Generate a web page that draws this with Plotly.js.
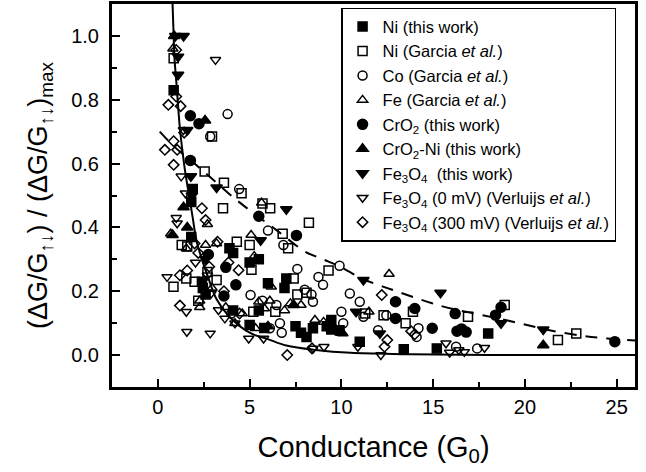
<!DOCTYPE html>
<html>
<head>
<meta charset="utf-8">
<script src="https://cdn.plot.ly/plotly-3.0.1.min.js"></script>
<style>html,body{margin:0;padding:0;background:#fff;}#chart{width:646px;height:472px;}</style>
</head>
<body>
<div id="chart"></div>
<script>
// ---- data ----
const niThisX = [0.86,1.82,1.9,1.82,2.45,2.4,2.6,3.9,4.1,4.1,5.0,5.5,5.0,5.5,5.8,6.0,7.0,6.9,7.5,7.8,8.1,8.45,9.2,9.45,9.45,9.9,11.0,13.4,15.2,18.0];
const niThisY = [0.83,0.48,0.52,0.37,0.21,0.23,0.19,0.335,0.32,0.14,0.29,0.30,0.094,0.14,0.085,0.225,0.24,0.21,0.09,0.07,0.057,0.084,0.09,0.11,0.08,0.078,0.042,0.018,0.021,0.068];

const niGarX = [0.86,2.95,2.55,3.6,3.55,4.56,5.7,6.12,8.23,6.8,7.1,4.3,5.0,5.1,1.3,1.6,0.85,1.55,2.0,2.7,3.2,2.2,5.2,7.4,7.6,8.1,9.3,6.4,12.3,13.5,13.9,16.9,18.9,21.8,22.8,11.3];
const niGarY = [0.93,0.685,0.575,0.54,0.46,0.507,0.475,0.46,0.415,0.38,0.335,0.355,0.345,0.267,0.345,0.34,0.214,0.24,0.23,0.26,0.235,0.17,0.136,0.24,0.19,0.195,0.265,0.136,0.125,0.10,0.136,0.12,0.157,0.047,0.068,0.13];

const coGarX = [3.8,2.85,4.43,6.0,6.84,7.6,9.9,8.75,9.0,8.0,8.37,8.45,5.05,6.46,6.65,6.75,6.1,10.46,11.0,11.2,10.0,10.1,12.0,14.2,14.1,16.25,17.4,12.45,5.7,4.0];
const coGarY = [0.755,0.685,0.52,0.39,0.345,0.27,0.28,0.245,0.22,0.205,0.19,0.167,0.188,0.157,0.10,0.07,0.084,0.193,0.167,0.12,0.136,0.10,0.078,0.084,0.057,0.026,0.021,0.125,0.17,0.13];

const feGarX = [0.82,5.65,5.08,5.25,2.7,2.6,1.55,0.7,3.2,2.28,2.28,2.95,3.7,4.2,6.18,5.32,5.5,6.1,5.8,7.22,7.8,8.56,9.03,10.08,11.5,12.6,4.6,6.9];
const feGarY = [0.96,0.477,0.376,0.31,0.41,0.345,0.334,0.38,0.35,0.17,0.15,0.21,0.15,0.10,0.214,0.084,0.167,0.17,0.146,0.162,0.157,0.11,0.104,0.068,0.136,0.254,0.13,0.14];

const cro2X = [1.77,2.24,1.77,5.5,7.55,4.25,3.7,3.6,2.75,12.95,12.95,14.0,14.95,16.2,16.3,16.55,16.8,18.4,18.7,24.9];
const cro2Y = [0.75,0.725,0.61,0.435,0.375,0.22,0.275,0.185,0.315,0.167,0.115,0.146,0.084,0.13,0.075,0.082,0.072,0.125,0.15,0.042];

const cro2NiX = [0.89,2.57,1.4,1.6,0.8,7.4,10.0,21.0,6.0];
const cro2NiY = [1.0,0.735,0.463,0.40,0.376,0.157,0.07,0.031,0.09];

const fe3o4ThisX = [0.95,1.4,1.1,1.1,1.6,1.8,1.85,3.2,5.6,7.0,11.2,15.4,18.7,21.0,10.8,12.1,2.6];
const fe3o4ThisY = [1.0,1.0,0.935,0.878,0.705,0.56,0.5,0.525,0.36,0.457,0.235,0.195,0.10,0.08,0.136,0.068,0.3];

const fe3o4ZeroX = [3.14,1.0,1.05,1.5,1.27,1.39,0.5,1.55,1.58,2.85,2.05,2.9,3.3,3.65,4.2,4.95,5.76,8.46,9.05,10.9,12.15,15.7,15.9,16.4,16.7,17.8,2.7];
const fe3o4ZeroY = [0.925,0.43,0.413,0.507,0.56,0.705,0.245,0.136,0.073,0.068,0.29,0.193,0.141,0.115,0.10,0.052,0.052,0.021,0.026,0.026,0.0,0.037,0.008,0.016,0.01,0.023,0.25];

const fe3o4ThreeX = [1.0,0.57,1.0,1.24,0.86,0.38,1.05,0.86,1.43,2.4,2.6,2.0,2.2,2.8,1.2,1.6,1.2,3.6,3.85,4.4,3.25,4.45,7.05,8.4,12.2,13.8,14.0,12.5,12.35];
const fe3o4ThreeY = [0.956,0.784,0.81,0.78,0.67,0.643,0.643,0.596,0.697,0.46,0.423,0.35,0.32,0.277,0.25,0.265,0.155,0.2,0.29,0.266,0.355,0.13,0.0,0.021,0.188,0.075,0.065,0.047,0.026];

// fitted guide curves
const solidX = [0.80,0.86,0.91,1.0,1.09,1.2,1.36,1.5,1.7,1.9,2.1,2.4,2.7,3.2,3.9,5.0,6.0,7.0,8.6,10.5,13.7,18,26];
const solidY = [1.10,1.0,0.925,0.86,0.79,0.71,0.63,0.57,0.50,0.43,0.36,0.30,0.25,0.175,0.12,0.07,0.05,0.03,0.016,0.007,0.003,0.0,0.0];
const dashX = [0.1,0.95,2.0,3.0,4.2,5.2,6.5,8.0,9.0,10,11.1,12,13,14.9,16.1,17.7,19.7,21.4,23.2,24.5,26];
const dashY = [0.70,0.65,0.60,0.55,0.49,0.445,0.39,0.325,0.30,0.275,0.24,0.22,0.20,0.163,0.144,0.125,0.10,0.077,0.06,0.052,0.046];

const seriesNames = [
  'Ni (this work)',
  'Ni (Garcia <i>et al.</i>)',
  'Co (Garcia <i>et al.</i>)',
  'Fe (Garcia <i>et al.</i>)',
  'CrO<sub>2</sub> (this work)',
  'CrO<sub>2</sub>-Ni (this work)',
  'Fe<sub>3</sub>O<sub>4</sub>\u00a0 (this work)',
  'Fe<sub>3</sub>O<sub>4</sub> (0 mV) (Verluijs <i>et al.</i>)',
  'Fe<sub>3</sub>O<sub>4</sub> (300 mV) (Verluijs <i>et al.</i>)'
];

// ---- chart ----
const FONT = 'Liberation Sans, Arial, Helvetica, sans-serif';
function sc(x, y, name, symbol, size){
  return {x:x, y:y, name:name, type:'scatter', mode:'markers',
    marker:{symbol:symbol, size:size, color:'black', line:{color:'black', width:1.5}},
    cliponaxis:true};
}
const traces = [
  {x:solidX, y:solidY, type:'scatter', mode:'lines', line:{color:'black', width:2, shape:'spline'}, showlegend:false, hoverinfo:'skip'},
  {x:dashX, y:dashY, type:'scatter', mode:'lines', line:{color:'black', width:2, dash:'12px,9px', shape:'spline'}, showlegend:false, hoverinfo:'skip'},
  sc(niThisX, niThisY, seriesNames[0], 'square', 9),
  sc(niGarX, niGarY, seriesNames[1], 'square-open', 9),
  sc(coGarX, coGarY, seriesNames[2], 'circle-open', 9),
  sc(feGarX, feGarY, seriesNames[3], 'triangle-up-open', 9),
  sc(cro2X, cro2Y, seriesNames[4], 'circle', 10),
  sc(cro2NiX, cro2NiY, seriesNames[5], 'triangle-up', 10),
  sc(fe3o4ThisX, fe3o4ThisY, seriesNames[6], 'triangle-down', 10),
  sc(fe3o4ZeroX, fe3o4ZeroY, seriesNames[7], 'triangle-down-open', 9),
  sc(fe3o4ThreeX, fe3o4ThreeY, seriesNames[8], 'diamond-open', 8)
];

const layout = {
  width:646, height:472,
  margin:{l:112, r:11, t:4, b:85},
  paper_bgcolor:'white', plot_bgcolor:'white',
  font:{family:FONT, color:'black'},
  showlegend:true,
  legend:{x:0.438, y:0.99, xanchor:'left', yanchor:'top',
    bordercolor:'black', borderwidth:1.5, bgcolor:'white',
    font:{size:16.5, family:FONT, color:'black'}},
  xaxis:{
    range:[-2.5, 26], tick0:0, dtick:5,
    ticks:'inside', ticklen:8, tickwidth:2, tickcolor:'black',
    minor:{dtick:2.5, ticks:'inside', ticklen:5, tickwidth:2, tickcolor:'black'},
    showline:true, linewidth:3, linecolor:'black', mirror:true,
    showgrid:false, zeroline:false,
    tickfont:{size:20, family:FONT},
    title:{text:'Conductance (G<sub>0</sub>)', font:{size:29, family:FONT}, standoff:20}
  },
  yaxis:{
    range:[-0.1, 1.1], tick0:0, dtick:0.2, tickformat:'.1f',
    ticks:'inside', ticklen:8, tickwidth:2, tickcolor:'black',
    minor:{dtick:0.1, ticks:'inside', ticklen:5, tickwidth:2, tickcolor:'black'},
    showline:true, linewidth:3, linecolor:'black', mirror:true,
    showgrid:false, zeroline:false,
    tickfont:{size:20, family:FONT},
    ticklabelstandoff:6,
    title:{text:'(ΔG/G<sub>↑↓</sub>) / (ΔG/G<sub>↑↓</sub>)<sub>max</sub>', font:{size:27, family:FONT}, standoff:16}
  }
};

Plotly.newPlot('chart', traces, layout, {displayModeBar:false, staticPlot:true});
</script>
</body>
</html>
